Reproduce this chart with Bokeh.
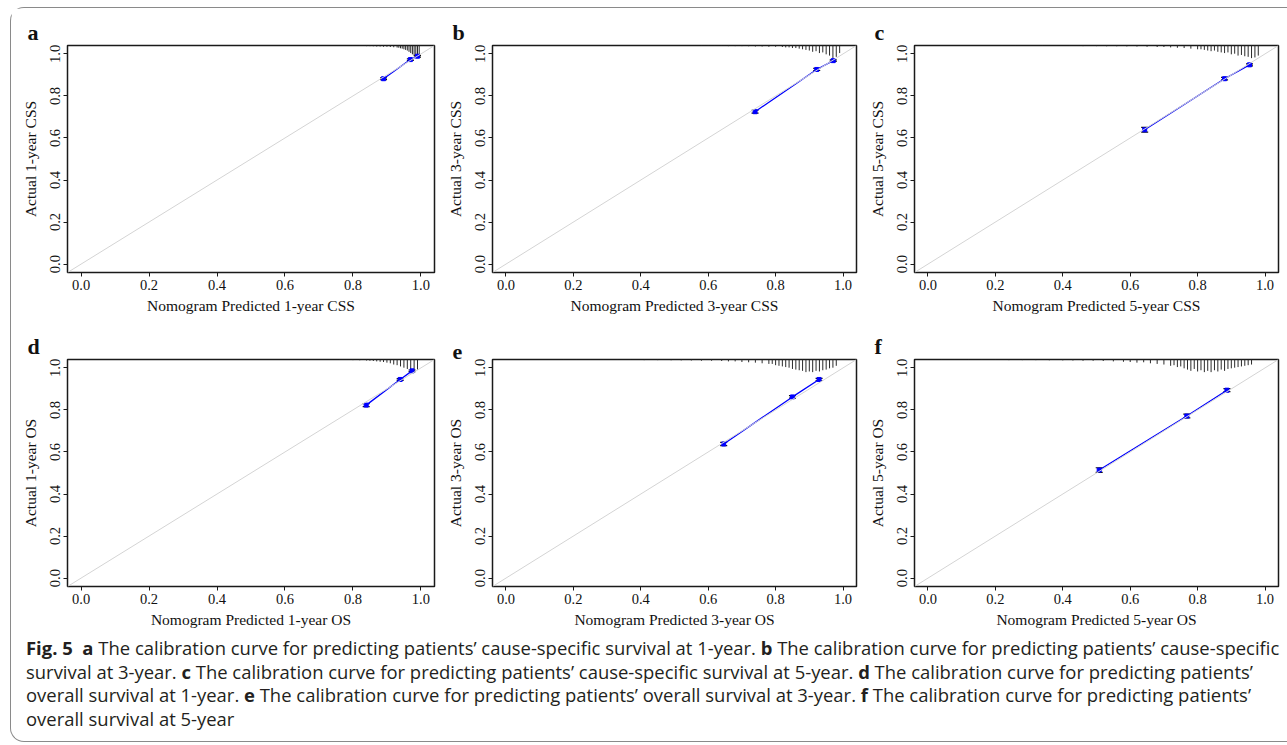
from bokeh.plotting import figure
from bokeh.models import (Range1d, FixedTicker, NumeralTickFormatter, Slope,
                          Whisker, TeeHead, ColumnDataSource, Div)
from bokeh.layouts import row, column
from bokeh.embed import file_html
from bokeh.resources import INLINE

# ---------------- data ----------------
letters = ["a", "b", "c", "d", "e", "f"]
x_titles = ["Nomogram Predicted 1-year CSS", "Nomogram Predicted 3-year CSS", "Nomogram Predicted 5-year CSS",
            "Nomogram Predicted 1-year OS", "Nomogram Predicted 3-year OS", "Nomogram Predicted 5-year OS"]
y_titles = ["Actual 1-year CSS", "Actual 3-year CSS", "Actual 5-year CSS",
            "Actual 1-year OS", "Actual 3-year OS", "Actual 5-year OS"]
tick_values = [0.0, 0.2, 0.4, 0.6, 0.8, 1.0]

pred_a = [0.890, 0.969, 0.990]; obs_a = [0.882, 0.973, 0.989]; err_a = [0.004, 0.004, 0.004]
pred_b = [0.739, 0.922, 0.971]; obs_b = [0.725, 0.926, 0.968]; err_b = [0.007, 0.005, 0.004]
pred_c = [0.643, 0.880, 0.954]; obs_c = [0.639, 0.882, 0.948]; err_c = [0.011, 0.006, 0.005]
pred_d = [0.839, 0.939, 0.974]; obs_d = [0.823, 0.945, 0.986]; err_d = [0.007, 0.004, 0.004]
pred_e = [0.646, 0.850, 0.929]; obs_e = [0.638, 0.862, 0.945]; err_e = [0.008, 0.006, 0.005]
pred_f = [0.508, 0.768, 0.887]; obs_f = [0.514, 0.771, 0.894]; err_f = [0.011, 0.009, 0.007]

# distribution of predicted risk (spike histogram at top), relative frequency
rug_a_x = [0.80, 0.82, 0.84, 0.85, 0.86, 0.87, 0.88, 0.89, 0.90, 0.91, 0.92, 0.93, 0.935, 0.94, 0.945,
           0.95, 0.955, 0.96, 0.965, 0.97, 0.975, 0.98, 0.985, 0.99, 0.995]
rug_a_f = [0.04, 0.04, 0.05, 0.05, 0.06, 0.08, 0.08, 0.1, 0.1, 0.12, 0.14, 0.16, 0.18, 0.22, 0.25,
           0.3, 0.35, 0.4, 0.5, 0.6, 0.7, 0.85, 1.0, 0.95, 0.8]
rug_b_x = [0.58, 0.60, 0.62, 0.64, 0.66, 0.68, 0.70, 0.72, 0.74, 0.76, 0.78, 0.80, 0.82, 0.83, 0.84,
           0.85, 0.86, 0.87, 0.88, 0.89, 0.90, 0.91, 0.92, 0.93, 0.94, 0.95, 0.96, 0.97, 0.98, 0.99]
rug_b_f = [0.04, 0.04, 0.04, 0.04, 0.05, 0.05, 0.05, 0.06, 0.08, 0.08, 0.1, 0.1, 0.12, 0.15, 0.15,
           0.2, 0.2, 0.25, 0.3, 0.35, 0.4, 0.5, 0.45, 0.6, 0.55, 0.7, 0.8, 1.0, 0.9, 0.6]
rug_c_x = [0.22, 0.26, 0.30, 0.34, 0.38, 0.42, 0.46, 0.50, 0.53, 0.56, 0.59, 0.62, 0.65, 0.68, 0.70,
           0.72, 0.74, 0.76, 0.78, 0.80, 0.81, 0.82, 0.83, 0.84, 0.85, 0.86, 0.87, 0.88, 0.89, 0.90,
           0.91, 0.92, 0.93, 0.94, 0.95, 0.96, 0.97, 0.98]
rug_c_f = [0.03, 0.03, 0.03, 0.04, 0.04, 0.04, 0.05, 0.05, 0.06, 0.06, 0.07, 0.08, 0.1, 0.12, 0.12,
           0.15, 0.18, 0.2, 0.25, 0.3, 0.3, 0.35, 0.4, 0.45, 0.4, 0.5, 0.55, 0.6, 0.55, 0.7,
           0.65, 0.8, 0.75, 0.85, 0.9, 1.0, 0.95, 0.8]
rug_d_x = [0.73, 0.76, 0.78, 0.80, 0.82, 0.84, 0.85, 0.86, 0.87, 0.88, 0.89, 0.90, 0.91, 0.92, 0.93,
           0.94, 0.95, 0.96, 0.97, 0.98, 0.99]
rug_d_f = [0.03, 0.04, 0.04, 0.05, 0.06, 0.08, 0.1, 0.12, 0.15, 0.18, 0.2, 0.25, 0.3, 0.4, 0.45,
           0.55, 0.65, 0.75, 0.9, 1.0, 0.8]
rug_e_x = [0.17, 0.21, 0.25, 0.29, 0.33, 0.37, 0.41, 0.45, 0.49, 0.52, 0.55, 0.58, 0.61, 0.64, 0.66,
           0.68, 0.70, 0.72, 0.74, 0.76, 0.78, 0.79, 0.80, 0.81, 0.82, 0.83, 0.84, 0.85, 0.86, 0.87,
           0.88, 0.89, 0.90, 0.91, 0.92, 0.93, 0.94, 0.95, 0.96, 0.97, 0.98]
rug_e_f = [0.03, 0.03, 0.03, 0.04, 0.04, 0.04, 0.05, 0.05, 0.06, 0.07, 0.08, 0.1, 0.1, 0.12, 0.15,
           0.15, 0.2, 0.22, 0.25, 0.3, 0.35, 0.35, 0.45, 0.5, 0.55, 0.6, 0.65, 0.75, 0.8, 0.85,
           0.9, 1.0, 0.95, 1.0, 0.9, 0.95, 0.85, 0.8, 0.7, 0.65, 0.5]
rug_f_x = [0.00, 0.04, 0.08, 0.12, 0.16, 0.20, 0.24, 0.28, 0.32, 0.36, 0.40, 0.43, 0.46, 0.49, 0.52,
           0.55, 0.58, 0.60, 0.62, 0.64, 0.66, 0.68, 0.70, 0.72, 0.73, 0.74, 0.75, 0.76, 0.77, 0.78,
           0.79, 0.80, 0.81, 0.82, 0.83, 0.84, 0.85, 0.86, 0.87, 0.88, 0.89, 0.90, 0.91, 0.92, 0.93,
           0.94, 0.95, 0.96]
rug_f_f = [0.03, 0.03, 0.03, 0.04, 0.04, 0.04, 0.05, 0.05, 0.05, 0.06, 0.07, 0.08, 0.1, 0.1, 0.12,
           0.15, 0.18, 0.2, 0.25, 0.22, 0.3, 0.35, 0.4, 0.5, 0.45, 0.6, 0.55, 0.7, 0.8, 0.9,
           0.75, 0.95, 0.85, 1.0, 0.9, 1.0, 0.85, 0.95, 0.8, 0.9, 0.75, 0.7, 0.65, 0.6, 0.55,
           0.5, 0.45, 0.4]

panels = [
    (pred_a, obs_a, err_a, rug_a_x, rug_a_f),
    (pred_b, obs_b, err_b, rug_b_x, rug_b_f),
    (pred_c, obs_c, err_c, rug_c_x, rug_c_f),
    (pred_d, obs_d, err_d, rug_d_x, rug_d_f),
    (pred_e, obs_e, err_e, rug_e_x, rug_e_f),
    (pred_f, obs_f, err_f, rug_f_x, rug_f_f),
]

LO, HI = -0.04, 1.04
SPIKE_MAX = 0.06
SERIF = "Liberation Serif"


def make_panel(i):
    pred, obs, err, rx, rf = panels[i]
    col = i % 3
    if col == 0:
        width, bl, br = 432, 56, 9
    elif col == 1:
        width, bl, br = 422, 46, 9
    else:
        width, bl, br = 418, 46, 5
    p = figure(width=width, height=314, x_range=Range1d(LO, HI), y_range=Range1d(LO, HI),
               output_backend="svg", toolbar_location=None,
               min_border_left=bl, min_border_right=br, min_border_top=37, min_border_bottom=50)
    p.xgrid.grid_line_color = None
    p.ygrid.grid_line_color = None
    p.outline_line_color = "#1a1a1a"
    p.outline_line_width = 1.5
    p.outline_line_alpha = 1.0
    p.background_fill_color = "white"
    p.border_fill_color = "white"

    p.title.text = letters[i]
    p.title.align = "left"
    p.title.offset = -40
    p.title.standoff = 1
    p.title.text_font = SERIF
    p.title.text_font_style = "bold"
    p.title.text_font_size = "22px"
    p.title.text_color = "#111111"

    for ax in (p.xaxis[0], p.yaxis[0]):
        ax.ticker = FixedTicker(ticks=tick_values)
        ax.formatter = NumeralTickFormatter(format="0.0")
        ax.axis_line_color = None
        ax.major_tick_out = 4
        ax.major_tick_in = 0
        ax.major_tick_line_color = "#1a1a1a"
        ax.minor_tick_line_color = None
        ax.major_label_text_font = SERIF
        ax.major_label_text_font_size = "14.5px"
        ax.major_label_text_color = "#111111"
        ax.axis_label_text_font = SERIF
        ax.axis_label_text_font_size = "15.5px"
        ax.axis_label_text_font_style = "normal"
        ax.axis_label_text_color = "#111111"
    p.xaxis[0].axis_label = x_titles[i]
    p.yaxis[0].axis_label = y_titles[i]
    p.xaxis[0].major_label_standoff = 3
    p.xaxis[0].axis_label_standoff = 4
    p.yaxis[0].major_label_standoff = 3
    p.yaxis[0].axis_label_standoff = 9
    p.yaxis[0].major_label_orientation = "vertical"

    p.add_layout(Slope(gradient=1, y_intercept=0, line_color="#d4d4d4", line_width=1))

    p.segment(x0=rx, y0=[HI] * len(rx), x1=rx, y1=[HI - f * SPIKE_MAX for f in rf],
              line_color="#2a2a2a", line_width=1)

    p.line(pred, obs, line_color="#0000ff", line_width=1.3)
    src = ColumnDataSource(dict(x=pred, lower=[o - e for o, e in zip(obs, err)],
                                upper=[o + e for o, e in zip(obs, err)]))
    p.add_layout(Whisker(source=src, base="x", lower="lower", upper="upper", dimension="height",
                         line_color="#111111", line_width=1.2,
                         upper_head=TeeHead(size=7, line_color="#111111", line_width=1.2),
                         lower_head=TeeHead(size=7, line_color="#111111", line_width=1.2)))
    p.scatter(pred, obs, marker="square", size=4, color="#0000ff")
    return p


figs = [make_panel(i) for i in range(6)]

caption_html = (
    "<div style=\"font-family:'Open Sans','Noto Sans',sans-serif; font-size:18.45px; line-height:23.7px; "
    "color:#231f20; white-space:nowrap; padding-left:10px; position:relative; top:-5px;\">"
    "<b>Fig. 5</b>&nbsp; <b>a</b> The calibration curve for predicting patients’ cause-specific survival at 1-year. "
    "<b>b</b> The calibration curve for predicting patients’ cause-specific<br>"
    "survival at 3-year. <b>c</b> The calibration curve for predicting patients’ cause-specific survival at 5-year. "
    "<b>d</b> The calibration curve for predicting patients’<br>"
    "overall survival at 1-year. <b>e</b> The calibration curve for predicting patients’ overall survival at 3-year. "
    "<b>f</b> The calibration curve for predicting patients’<br>"
    "overall survival at 5-year</div>"
)
cap = Div(text=caption_html, width=1272, height=95)

layout = column(row(*figs[:3]), row(*figs[3:]), cap,
                styles={"margin-left": "10px", "margin-top": "7px",
                        "border-left": "1px solid #8a8a8a", "border-top": "1px solid #8a8a8a",
                        "border-bottom": "1px solid #8a8a8a",
                        "border-top-left-radius": "14px", "border-bottom-left-radius": "14px"})

open("out.html", "w").write(file_html(layout, INLINE))
